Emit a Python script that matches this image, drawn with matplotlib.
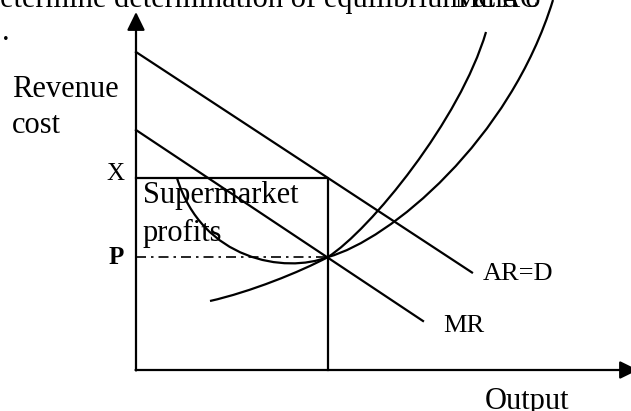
import matplotlib
matplotlib.use("Agg")
import matplotlib.pyplot as plt
from matplotlib.path import Path
from matplotlib.patches import PathPatch

plt.rcParams['font.family'] = ['Liberation Serif', 'DejaVu Serif']

# equilibrium (quantity, price) and profit level
q_eq = 19.2
p_eq = 11.3
x_level = 19.2

# straight revenue lines: (x0, y0) -> (x1, y1)
ar_x = [0.0, 33.6]
ar_y = [31.8, 9.75]
mr_x = [0.0, 28.7]
mr_y = [24.0, 4.9]

# cost curves as bezier control points (two cubic pieces each)
ac_x = [4.1, 6.6, 14.9, q_eq, 25.4, 37.4, 41.7]
ac_y = [19.2, 11.0, 9.6, p_eq, 13.0, 23.0, 37.0]
mc_x = [7.4, 11.4, 16.4, q_eq, 23.4, 32.4, 35.0]
mc_y = [6.9, 7.8, 9.8, p_eq, 14.0, 25.0, 33.8]

y_top = 35.8
x_right = 50.2

fig = plt.figure(figsize=(6.31, 4.11), dpi=100)
ax = fig.add_axes([0, 0, 1, 1])
ax.set_xlim(-13.6, 49.5)
ax.set_ylim(-4.1, 37.0)
ax.axis('off')

lw = 1.6
arrow = dict(arrowstyle='-|>,head_length=11,head_width=5.4',
             mutation_scale=1, lw=lw, color='k', shrinkA=0, shrinkB=0)
ax.annotate('', xy=(0, y_top), xytext=(0, -0.05), arrowprops=arrow,
            annotation_clip=False)
ax.annotate('', xy=(x_right, 0), xytext=(-0.05, 0), arrowprops=arrow,
            annotation_clip=False)

ax.plot(ar_x, ar_y, color='k', lw=lw)
ax.plot(mr_x, mr_y, color='k', lw=lw)

# profit rectangle
ax.plot([0, q_eq, q_eq], [x_level, x_level, 0], color='k', lw=lw)
ax.plot([0, q_eq], [p_eq, p_eq], color='k', lw=1.2, ls=(0, (6, 3, 1.5, 3)))

codes = [Path.MOVETO] + [Path.CURVE4] * 6
for xs, ys in [(ac_x, ac_y), (mc_x, mc_y)]:
    path = Path(list(zip(xs, ys)), codes)
    ax.add_patch(PathPatch(path, fill=False, lw=lw, edgecolor='k'))

big = 22
small = 19
ax.text(-12.4, 27.3, 'Revenue', fontsize=big, va='baseline')
ax.text(-12.4, 23.7, 'cost', fontsize=big, va='baseline')
ax.text(-1.2, 19.0, 'X', fontsize=18, ha='right', va='baseline')
ax.text(-1.2, 10.6, 'P', fontsize=18, fontweight='bold', ha='right', va='baseline')
ax.text(0.7, 16.7, 'Supermarket', fontsize=big, va='baseline')
ax.text(0.7, 12.9, 'profits', fontsize=big, va='baseline')
ax.text(34.7, 9.0, 'AR=D', fontsize=small, va='baseline')
ax.text(30.7, 3.8, 'MR', fontsize=small, va='baseline')
ax.text(34.9, -3.9, 'Output', fontsize=big, va='baseline')
ax.text(-13.6, 36.3, 'etermine determination of equilibrium and o', fontsize=big, va='baseline')
ax.text(31.9, 36.3, 'MC AC', fontsize=small, va='baseline')
ax.text(-13.4, 33.0, '.', fontsize=big, va='baseline')

fig.savefig('out.png', dpi=100)
